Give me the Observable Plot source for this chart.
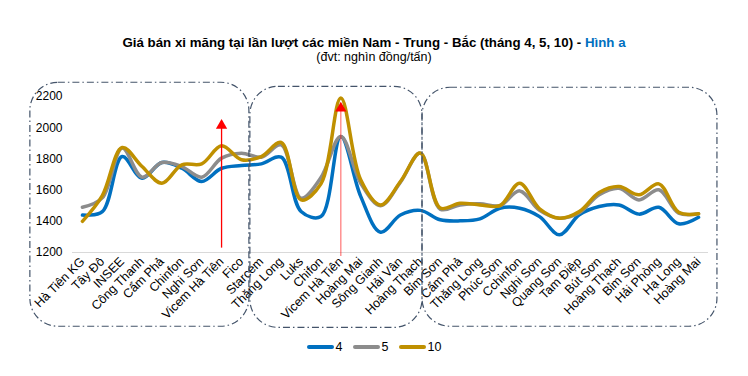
<!DOCTYPE html>
<html>
<head>
<meta charset="utf-8">
<script src="https://cdn.jsdelivr.net/npm/d3@7"></script>
<script src="https://cdn.jsdelivr.net/npm/@observablehq/plot@0.6"></script>
<style>
  body { margin: 0; background: #fff; font-family: "Liberation Sans", Arial, sans-serif; color: #000; }
  #wrap { width: 748px; height: 376px; position: relative; overflow: hidden; }
  .title { text-align: center; font-weight: bold; font-size: 13.3px; line-height: 15px; padding-top: 35px; }
  .title .blue { color: #0070c0; }
  .sub { text-align: center; font-size: 12.5px; line-height: 15px; }
  #legend { display: flex; justify-content: center; align-items: center; font-size: 12.5px; line-height: 14px; gap: 10px; margin-left: 0px; }
  #legend .item { display: flex; align-items: center; gap: 2px; }
  #legend .sw { width: 27px; height: 4px; border-radius: 2px; }
  #chart g[aria-label="x-axis tick label"] text { font-size: 12.5px; }
</style>
</head>
<body>
<div id="wrap">
  <div class="title">Giá bán xi măng tại lần lượt các miền Nam - Trung - Bắc (tháng 4, 5, 10) - <span class="blue">Hình a</span></div>
  <div class="sub">(đvt: nghìn đồng/tấn)</div>
  <div id="chart"></div>
  <div id="legend"></div>
</div>
<script>
const categories = ["Hà Tiên KG","Tây Đô","INSEE","Công Thanh","Cẩm Phả","Chinfon","Nghi Sơn","Vicem Hà Tiên","Fico","Starcem","Thăng Long","Luks","Chifon","Vicem Hà Tiên","Hoàng Mai","Sông Gianh","Hải Vân","Hoàng Thạch","Bỉm Sơn","Cẩm Phả","Thăng Long","Phúc Sơn","Cchinfon","Nghi Sơn","Quang Sơn","Tam Điệp","Bút Sơn","Hoàng Thạch","Bỉm Sơn","Hải Phòng","Hạ Long","Hoàng Mai"];
const seriesNames = ["4", "5", "10"];
const thang4 = [1440,1462,1815,1676,1777,1740,1655,1740,1758,1768,1811,1463,1430,1944,1560,1330,1440,1470,1410,1403,1416,1484,1484,1430,1313,1442,1495,1505,1446,1490,1384,1426];
const thang5 = [1490,1550,1870,1683,1777,1751,1683,1805,1837,1811,1890,1548,1680,1944,1644,1500,1650,1837,1478,1505,1512,1500,1595,1470,1420,1455,1570,1612,1537,1602,1452,1448];
const thang10 = [1400,1565,1873,1751,1644,1762,1768,1884,1795,1815,1905,1537,1640,2190,1666,1505,1655,1837,1485,1516,1505,1500,1644,1480,1420,1463,1585,1623,1570,1640,1458,1448];
const yTicks = [1200,1400,1600,1800,2000,2200];
// annotation arrows: category index, start value, tip value
const arrowIndex = [7, 13];
const arrowFrom = [1228, 1175];
const arrowTo = [2040, 2150];
// region boxes (in category-index units and value units)
const boxX1 = [-2.62, 8.45, 17.11];
const boxX2 = [8.40, 17.11, 31.95];
const boxTop = [2288, 2262, 2256];
const boxBottom = [724, 717, 724];

const colors = ["#0070c0", "#8c8c8c", "#bf9000"];
const allSeries = [thang4, thang5, thang10];
const rows = [];
allSeries.forEach((vals, s) => vals.forEach((v, i) => rows.push({i, v, s: seriesNames[s]})));
const arrows = arrowIndex.map((x, k) => ({x, y1: arrowFrom[k], y2: arrowTo[k], k}));
const boxes = boxX1.map((x1, k) => ({x1, x2: boxX2[k], y1: boxBottom[k], y2: boxTop[k]}));

const plot = Plot.plot({
  width: 748,
  height: 275,
  marginLeft: 72,
  marginRight: 40,
  marginTop: 31,
  marginBottom: 88,
  style: {fontFamily: "'Liberation Sans', Arial, sans-serif", fontSize: "12px", color: "#000", background: "transparent", overflow: "visible"},
  x: {type: "linear", domain: [-0.5, 31.5], axis: null},
  y: {domain: [1200, 2200], axis: null},
  color: {domain: seriesNames, range: colors},
  marks: [
    Plot.ruleY([1200], {stroke: "#d9d9d9", strokeWidth: 1.2}),
    Plot.axisY({ticks: yTicks, tickSize: 0, tickPadding: 10, tickFormat: d => String(d), fill: "#000"}),
    Plot.axisX({ticks: d3.range(categories.length), tickFormat: i => categories[i], tickRotate: -45, tickSize: 0, tickPadding: 7, fill: "#000", label: null}),
    Plot.line(rows, {x: "i", y: "v", z: "s", stroke: "s", strokeWidth: 3.5, curve: "catmull-rom"}),
    Plot.ruleX(arrows, {x: "x", y1: "y1", y2: "y2", stroke: "#ff0000", strokeWidth: 1.3, strokeOpacity: d => d.k === 0 ? 1 : 0.5}),
    Plot.dot(arrows, {x: "x", y: "y2", symbol: "triangle", r: 4.2, fill: "#ff0000", stroke: null, dy: 4, fillOpacity: 1}),
    Plot.rect(boxes, {x1: "x1", x2: "x2", y1: "y1", y2: "y2", fill: "none", stroke: "#44546a", strokeWidth: 1.2, strokeDasharray: "7,3,1.5,3", rx: 28})
  ]
});
document.getElementById("chart").appendChild(plot);

const legend = document.getElementById("legend");
seriesNames.forEach((n, k) => {
  const it = document.createElement("div");
  it.className = "item";
  const sw = document.createElement("span");
  sw.className = "sw";
  sw.style.background = colors[k];
  const lb = document.createElement("span");
  lb.textContent = n;
  it.appendChild(sw); it.appendChild(lb);
  legend.appendChild(it);
});
</script>
</body>
</html>
